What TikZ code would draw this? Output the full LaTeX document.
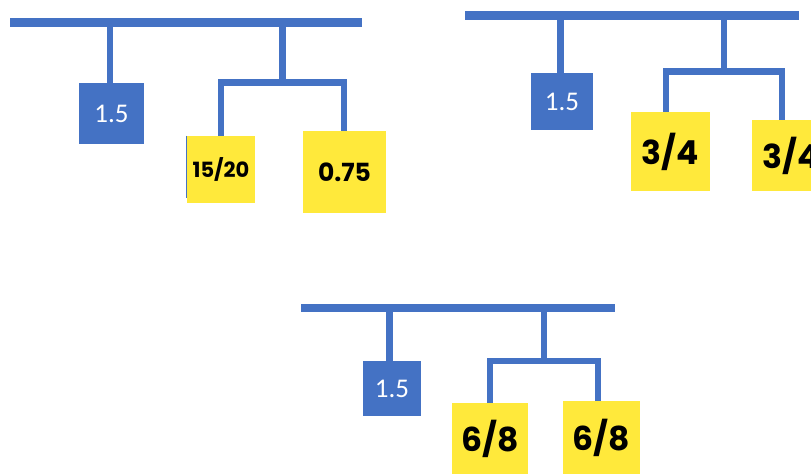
\documentclass[tikz,border=0pt]{standalone}
\usepackage{fontspec}
\newfontfamily\popfont{Poppins}
\newfontfamily\carlfont{Carlito}
\definecolor{tblue}{HTML}{4472C4}
\definecolor{tyellow}{HTML}{FFE93B}
\tikzset{
  bluebox/.style={fill=tblue, text=white, inner sep=0pt, font=\carlfont\fontsize{27}{30}\selectfont},
  yelbox/.style={fill=tyellow, text=black, inner sep=0pt, font=\popfont\bfseries\fontsize{33}{36}\selectfont},
  barline/.style={draw=tblue, line width=8.5pt, line cap=butt},
  conn/.style={draw=tblue, line width=6.3pt, line cap=butt, line join=miter},
}
\begin{document}
\begin{tikzpicture}[x=1pt, y=-1pt]
\useasboundingbox (0,0) rectangle (811,475);
\clip (0,0) rectangle (811,475);
\fill[white] (0,0) rectangle (811,475);

% ---------- Diagram 1 ----------
\coordinate (bar1L) at (10,22.5);
\coordinate (bar1R) at (362,22.5);
\coordinate (s1) at (110,22.5);
\coordinate (t1) at (282.5,22.5);
\coordinate (h1) at (282.5,82.5);
\coordinate (d1a) at (221,82.5);
\coordinate (d1b) at (344,82.5);
\node[bluebox, minimum width=65pt, minimum height=61pt] (b1) at (111.5,113.5) {1.5};
\node[yelbox, minimum width=68pt, minimum height=67pt, font=\popfont\bfseries\fontsize{21}{24}\selectfont] (y1a) at (221,169.5) {15/20};
\node[yelbox, minimum width=83pt, minimum height=82pt, font=\popfont\bfseries\fontsize{25}{28}\selectfont] (y1b) at (344.5,172) {0.75};
\draw[barline] (bar1L) -- (bar1R);
\draw[conn] (s1) -- (s1 |- b1.north);
\draw[conn] (t1) -- (h1);
\draw[conn] (y1a.north -| d1a) -- (d1a) -- (d1b) -- (y1b.north -| d1b);
\draw[tblue, line width=0.8pt] (y1a.north west) -- ([yshift=5pt]y1a.south west);

% ---------- Diagram 2 ----------
\coordinate (bar2L) at (465,15.5);
\coordinate (bar2R) at (799,15.5);
\coordinate (s2) at (560.5,15.5);
\coordinate (t2) at (724,15.5);
\coordinate (h2) at (724,71.5);
\coordinate (d2a) at (666,71.5);
\coordinate (d2b) at (782,71.5);
\node[bluebox, minimum width=62pt, minimum height=57pt] (b2) at (562,101.5) {1.5};
\node[yelbox, minimum width=79pt, minimum height=79pt] (y2a) at (670.5,151.5) {3/4};
\node[yelbox, minimum width=79pt, minimum height=71pt] (y2b) at (791.5,155.5) {3/4};
\draw[barline] (bar2L) -- (bar2R);
\draw[conn] (s2) -- (s2 |- b2.north);
\draw[conn] (t2) -- (h2);
\draw[conn] (y2a.north -| d2a) -- (d2a) -- (d2b) -- (y2b.north -| d2b);

% ---------- Diagram 3 ----------
\coordinate (bar3L) at (301,308);
\coordinate (bar3R) at (615,308);
\coordinate (s3) at (389.5,308);
\coordinate (t3) at (544,308);
\coordinate (h3) at (544,361);
\coordinate (d3a) at (490,361);
\coordinate (d3b) at (598,361);
\node[bluebox, minimum width=58pt, minimum height=55pt] (b3) at (392,388.5) {1.5};
\node[yelbox, minimum width=76pt, minimum height=71pt] (y3a) at (490,438.5) {6/8};
\node[yelbox, minimum width=77pt, minimum height=73pt] (y3b) at (601.5,437.5) {6/8};
\draw[barline] (bar3L) -- (bar3R);
\draw[conn] (s3) -- (s3 |- b3.north);
\draw[conn] (t3) -- (h3);
\draw[conn] (y3a.north -| d3a) -- (d3a) -- (d3b) -- (y3b.north -| d3b);
\end{tikzpicture}
\end{document}
